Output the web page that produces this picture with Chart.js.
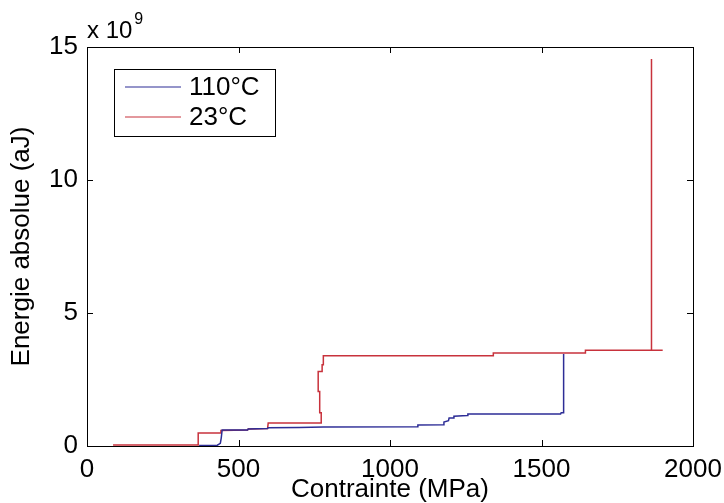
<!DOCTYPE html>
<html>
<head>
<meta charset="utf-8">
<script src="https://cdn.jsdelivr.net/npm/chart.js@4"></script>
<style>
  body { margin: 0; background: #ffffff; }
  canvas { display: block; }
</style>
</head>
<body>
<canvas id="energyChart" width="724" height="503"></canvas>
<script>
// values, energy in units of 10^9 aJ
const labels = ['110°C', '23°C'];

const stress110 = [370, 430, 440, 443, 446, 530, 532, 596, 598, 700, 780, 1090, 1092, 1176, 1178, 1193, 1195, 1209, 1211, 1255, 1257, 1563, 1565, 1573, 1573];
const energy110 = [0.02, 0.03, 0.1, 0.3, 0.6, 0.6, 0.64, 0.66, 0.69, 0.7, 0.71, 0.72, 0.79, 0.8, 0.9, 0.95, 1.05, 1.05, 1.12, 1.15, 1.2, 1.2, 1.25, 1.25, 3.46];

const stress23 = [86, 367, 367, 440, 442, 530, 532, 596, 598, 773, 773, 768, 768, 763, 763, 776, 776, 780, 780, 1341, 1341, 1645, 1645, 1900, 1863, 1863];
const energy23 = [0.04, 0.04, 0.49, 0.49, 0.58, 0.6, 0.64, 0.66, 0.86, 0.86, 1.25, 1.25, 2.05, 2.05, 2.8, 2.8, 3.05, 3.05, 3.39, 3.39, 3.5, 3.5, 3.6, 3.6, 3.6, 14.55];

const xTicks = [0, 500, 1000, 1500, 2000];
const yTicks = [0, 5, 10, 15];

const FONT = "'Liberation Sans', Arial, sans-serif";

function to_points(xs, ys) {
  var pts = [];
  for (let i = 0; i < xs.length; i++) {
    pts.push({x: xs[i], y: ys[i]});
  }
  return pts
}

// box, inward ticks, exponent and legend, matlab style
const matlabFrame = {
  id: 'matlabFrame',
  afterDraw(chart) {
    const ctx = chart.ctx;
    const a = chart.chartArea;
    const xs = chart.scales.x;
    const ys = chart.scales.y;
    ctx.save();
    ctx.strokeStyle = '#000';
    ctx.lineWidth = 1;
    ctx.strokeRect(Math.round(a.left) + 0.5, Math.round(a.top) + 0.5,
                   Math.round(a.right - a.left), Math.round(a.bottom - a.top));
    ctx.beginPath();
    xTicks.forEach(function(v) {
      var px = Math.round(xs.getPixelForValue(v)) + 0.5;
      ctx.moveTo(px, a.bottom); ctx.lineTo(px, a.bottom - 6);
      ctx.moveTo(px, a.top); ctx.lineTo(px, a.top + 6);
    });
    yTicks.forEach(function(v) {
      var py = Math.round(ys.getPixelForValue(v)) + 0.5;
      ctx.moveTo(a.left, py); ctx.lineTo(a.left + 6, py);
      ctx.moveTo(a.right, py); ctx.lineTo(a.right - 6, py);
    });
    ctx.stroke();

    // exponent label
    ctx.fillStyle = '#000';
    ctx.textBaseline = 'alphabetic';
    ctx.textAlign = 'left';
    ctx.font = '24px ' + FONT;
    ctx.fillText('x 10', a.left, a.top - 9);
    var w = ctx.measureText('x 10').width;
    ctx.font = '16px ' + FONT;
    ctx.fillText('9', a.left + w + 2, a.top - 23);

    // legend
    var bx = a.left + 27, by = a.top + 22, bw = 161, bh = 67;
    ctx.fillStyle = '#fff';
    ctx.fillRect(bx, by, bw, bh);
    ctx.strokeStyle = '#000';
    ctx.strokeRect(bx + 0.5, by + 0.5, bw, bh);
    ctx.font = '26px ' + FONT;
    ctx.textBaseline = 'middle';
    chart.data.datasets.forEach(function(ds, i) {
      var ly = by + 18 + i * 30;
      ctx.strokeStyle = ds.borderColor;
      ctx.lineWidth = 1.2;
      ctx.beginPath();
      ctx.moveTo(bx + 11, ly); ctx.lineTo(bx + 67, ly);
      ctx.stroke();
      ctx.fillStyle = '#000';
      ctx.fillText(ds.label, bx + 75, ly + 1);
    });
    ctx.restore();
  }
};

function create_chart() {
  const data = {
    datasets: [{
      label: labels[0],
      data: to_points(stress110, energy110),
      borderColor: 'rgb(45, 45, 150)',
      backgroundColor: 'rgb(45, 45, 150)',
    }, {
      label: labels[1],
      data: to_points(stress23, energy23),
      borderColor: 'rgb(200, 50, 60)',
      backgroundColor: 'rgb(200, 50, 60)',
    }]
  };
  const config = {
    type: 'scatter',
    data: data,
    options: {
      responsive: false,
      animation: false,
      showLine: true,
      elements: {
        point: { radius: 0, hoverRadius: 0 },
        line: { borderWidth: 1.5, tension: 0 }
      },
      layout: { padding: { top: 47, right: 31, left: 0, bottom: 0 } },
      plugins: {
        legend: { display: false },
        tooltip: { enabled: false }
      },
      scales: {
        x: {
          type: 'linear',
          min: 0, max: 2000,
          afterFit: function(s) { s.height = 57; s.paddingLeft = 0; s.paddingRight = 0; },
          afterBuildTicks: function(s) { s.ticks = xTicks.map(v => ({value: v})); },
          grid: { drawOnChartArea: false, drawTicks: false },
          border: { display: true, color: '#000' },
          ticks: { color: '#000', padding: 8, font: { family: FONT, size: 26 }, maxRotation: 0,
                   callback: function(v) { return String(v); } },
          title: { display: true, text: 'Contrainte (MPa)', color: '#000',
                   padding: { top: 0, bottom: 0 }, font: { family: FONT, size: 26, lineHeight: 1.0 } }
        },
        y: {
          type: 'linear',
          min: 0, max: 15,
          afterFit: function(s) { s.width = 87; s.paddingTop = 0; s.paddingBottom = 0; },
          afterBuildTicks: function(s) { s.ticks = yTicks.map(v => ({value: v})); },
          grid: { drawOnChartArea: false, drawTicks: false },
          border: { display: true, color: '#000' },
          ticks: { color: '#000', padding: 9, font: { family: FONT, size: 26 },
                   callback: function(v) { return String(v); } },
          title: { display: true, text: 'Energie absolue (aJ)', color: '#000',
                   padding: { top: 9, bottom: 0 }, font: { family: FONT, size: 26, lineHeight: 1.0 } }
        }
      }
    },
    plugins: [matlabFrame]
  };
  return new Chart(document.getElementById('energyChart'), config);
}

create_chart();
</script>
</body>
</html>
